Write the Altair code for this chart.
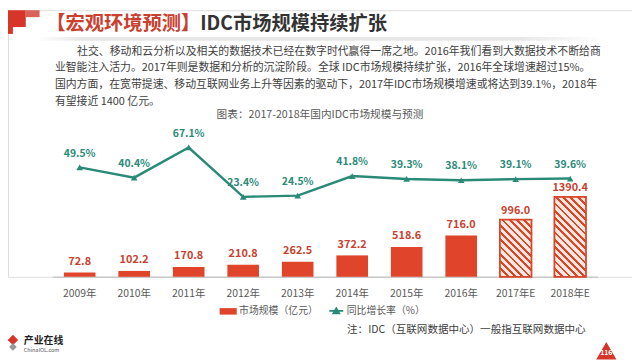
import math
import altair as alt
import pandas as pd

FONT = "Noto Sans CJK SC"

# ---------------- data ----------------
years = ["2009年", "2010年", "2011年", "2012年", "2013年", "2014年", "2015年", "2016年", "2017年E", "2018年E"]
market = [72.8, 102.2, 170.8, 210.8, 262.5, 372.2, 518.6, 716.0, 996.0, 1390.4]
growth = [49.5, 40.4, 67.1, 23.4, 24.5, 41.8, 39.3, 38.1, 39.1, 39.6]
estimate = [False, False, False, False, False, False, False, False, True, True]

bar_series = "市场规模（亿元）"
line_series = "同比增长率（%）"

title_red = "【宏观环境预测】"
title_dark = "IDC市场规模持续扩张"
paragraph = [
    "社交、移动和云分析以及相关的数据技术已经在数字时代赢得一席之地。2016年我们看到大数据技术不断给商",
    "业智能注入活力。2017年则是数据和分析的沉淀阶段。全球 IDC市场规模持续扩张，2016年全球增速超过15%。",
    "国内方面，在宽带提速、移动互联网业务上升等因素的驱动下，2017年IDC市场规模增速或将达到39.1%，2018年",
    "有望接近 1400 亿元。",
]
chart_caption = "图表：2017-2018年国内IDC市场规模与预测"
footnote = "注：IDC（互联网数据中心）一般指互联网数据中心"
logo_name = "产业在线"
logo_url = "ChinaIOL.com"
page_no = "116"

df = pd.DataFrame({
    "year": years,
    "market": market,
    "growth": growth,
    "est": estimate,
    "bar_series": bar_series,
    "line_series": line_series,
})

# ---------------- styles ----------------
RED = "#e0442a"
HATCH_RED = "#d9472b"
HATCH_BG = "#fde6de"
LABEL_RED = "#c8412f"
TEAL = "#2a8a78"
GRAY = "#595959"

X_RANGE = [45, 597]
PAD_IN = 0.42
BAR_BASE = 270
PPU = 0.05826          # px per 亿元
LINE_ZERO = 215.8
LINE_PPU = 1.1442      # px per %

x_enc = alt.X(
    "year:N",
    scale=alt.Scale(domain=years, range=X_RANGE, paddingInner=PAD_IN, paddingOuter=PAD_IN / 2),
    axis=alt.Axis(title=None, labelAngle=0, ticks=False, domainColor="#c8c8c8", domainWidth=1.5,
                  labelColor=GRAY, labelFontSize=10.5, labelPadding=12, labelFont=FONT, grid=False),
)
y_bar = alt.Y("market:Q", axis=None,
              scale=alt.Scale(domain=[0, 1400], range=[BAR_BASE, BAR_BASE - 1400 * PPU], nice=False))
y_line = alt.Y("growth:Q", axis=None,
               scale=alt.Scale(domain=[0, 70], range=[LINE_ZERO, LINE_ZERO - 70 * LINE_PPU], nice=False))

base = alt.Chart(df)

solid = base.transform_filter("!datum.est").mark_bar().encode(
    x=x_enc, y=y_bar,
    color=alt.Color("bar_series:N", scale=alt.Scale(range=[RED]),
                    legend=alt.Legend(title=None, orient="none", legendX=214, legendY=296,
                                      symbolType="M-1,-0.38H1V0.38H-1Z", symbolSize=300,
                                      symbolStrokeWidth=0, labelFontSize=10, labelColor=GRAY,
                                      labelFont=FONT, labelOffset=2, padding=0)),
)

step = (X_RANGE[1] - X_RANGE[0]) / (len(years) - PAD_IN + 2 * PAD_IN / 2)
bw = step * (1 - PAD_IN)


def hatch(value):
    h = value * PPU
    w = bw
    r = h / w
    c = (1 + r) / (1 + r * r)
    L = (w + h) / math.sqrt(2)
    period, red_w = 5.2, 2.0
    stops = []
    k = 0
    while k * period < L:
        a = k * period / L
        b = min((k * period + red_w) / L, 1)
        e = min((k + 1) * period / L, 1)
        stops += [(a, HATCH_RED), (b, HATCH_RED), (b, HATCH_BG), (e, HATCH_BG)]
        k += 1
    return alt.LinearGradient(
        gradient="linear",
        stops=[alt.GradientStop(offset=o, color=col) for o, col in stops],
        x1=0, y1=1, x2=c, y2=1 - c * r,
    )


hatched = []
for yr, val, e in zip(years, market, estimate):
    if e:
        hatched.append(
            base.transform_filter(alt.datum.year == yr)
            .mark_bar(fill=hatch(val), stroke=HATCH_RED, strokeWidth=1.8)
            .encode(x=x_enc, y=y_bar)
        )

bar_labels_solid = base.transform_filter("!datum.est").mark_text(
    dy=-11, fontSize=11, fontWeight="bold", color=LABEL_RED, font=FONT
).encode(x=x_enc, y=y_bar, text=alt.Text("market:Q", format=".1f"))
bar_labels_est = base.transform_filter("datum.est").mark_text(
    dy=-9, fontSize=11, fontWeight="bold", color=LABEL_RED, font=FONT
).encode(x=x_enc, y=y_bar, text=alt.Text("market:Q", format=".1f"))

bars_layer = alt.layer(solid, *hatched, bar_labels_solid, bar_labels_est)

line = base.mark_line(strokeWidth=2.5).encode(
    x=x_enc, y=y_line,
    stroke=alt.Stroke("line_series:N", scale=alt.Scale(range=[TEAL]),
                      legend=alt.Legend(title=None, orient="none", legendX=324, legendY=296,
                                        symbolType="M-1,0H1M-0.4,0.35L0,-0.35L0.4,0.35Z",
                                        symbolSize=200, symbolStrokeWidth=2, symbolFillColor=TEAL,
                                        labelFontSize=10, labelColor=GRAY, labelFont=FONT,
                                        labelOffset=2, padding=0)),
)
points = base.mark_point(shape="triangle-up", filled=True, size=45, color=TEAL, opacity=1).encode(
    x=x_enc, y=y_line)
line_labels = base.transform_calculate(lbl="format(datum.growth, '.1f') + '%'").mark_text(
    dy=-14, fontSize=10.5, fontWeight="bold", color=TEAL, font=FONT
).encode(x=x_enc, y=y_line, text="lbl:N")

line_layer = alt.layer(line, points, line_labels)

# ---------------- decorations (slide furniture) ----------------
one = alt.Data(values=[{}])


def txt(s, x, y, size, color, weight="normal", align="left"):
    return alt.Chart(one).mark_text(
        text=s, fontSize=size, color=color, fontWeight=weight, align=align,
        baseline="middle", font=FONT
    ).encode(x=alt.value(x), y=alt.value(y))


def box(x, x2, y, y2, color):
    return alt.Chart(one).mark_rect(color=color).encode(
        x=alt.value(x), x2=alt.value(x2), y=alt.value(y), y2=alt.value(y2))


decor = [
    box(0, 18, 0, 17, "#d8352a"),
    box(0, 5, 17, 24, "#d8352a"),
    box(18, 32, 0, 7, "#da625a"),
    alt.Chart(one).mark_rect(
        fill=alt.LinearGradient(gradient="linear", x1=0, y1=0, x2=1, y2=0,
                                stops=[alt.GradientStop(offset=0, color="#ffffff"),
                                       alt.GradientStop(offset=0.08, color="#e6e6e6"),
                                       alt.GradientStop(offset=0.85, color="#e6e6e6"),
                                       alt.GradientStop(offset=1, color="#ffffff")])
    ).encode(x=alt.value(30), x2=alt.value(602), y=alt.value(27), y2=alt.value(31)),
    txt(title_red, 38.7, 14, 19.5, "#c9402f", "bold"),
    txt(title_dark, 194.7, 14, 19.5, "#333333", "bold"),
    txt(paragraph[0], 70, 42, 11, "#404040"),
    txt(paragraph[1], 47.5, 59, 11, "#404040"),
    txt(paragraph[2], 47.5, 76, 11, "#404040"),
    txt(paragraph[3], 47.5, 93, 11, "#404040"),
    txt(chart_caption, 316, 106, 10.8, GRAY, align="center"),
    txt(footnote, 585, 324, 10.7, "#404040", align="right"),
    alt.Chart(one).mark_point(shape="diamond", filled=True, size=110, color="#d8352a", opacity=1)
    .encode(x=alt.value(5), y=alt.value(334)),
    alt.Chart(one).mark_point(shape="diamond", filled=True, size=60, color="#9a9a9a", opacity=1)
    .encode(x=alt.value(5), y=alt.value(341)),
    txt(logo_name, 16, 335, 10, "#222222", "bold"),
    txt(logo_url, 16, 344, 5.5, "#555555"),
    alt.Chart(one).mark_point(shape="triangle-up", filled=True, size=420, color="#d8352a", opacity=1)
    .encode(x=alt.value(606), y=alt.value(345)),
    txt(page_no, 606, 347, 7, "#ffffff", "bold", align="center"),
]

chart = alt.layer(bars_layer, line_layer, *decor).resolve_scale(
    y="independent"
).properties(
    width=632, height=270,
    padding={"left": 0, "top": 0, "right": 0, "bottom": 82},
    autosize=alt.AutoSizeParams(type="none"),
    background="#ffffff",
).configure_view(stroke=None).configure(font=FONT)

chart.save("out.html", embed_options={"renderer": "svg", "actions": False})
